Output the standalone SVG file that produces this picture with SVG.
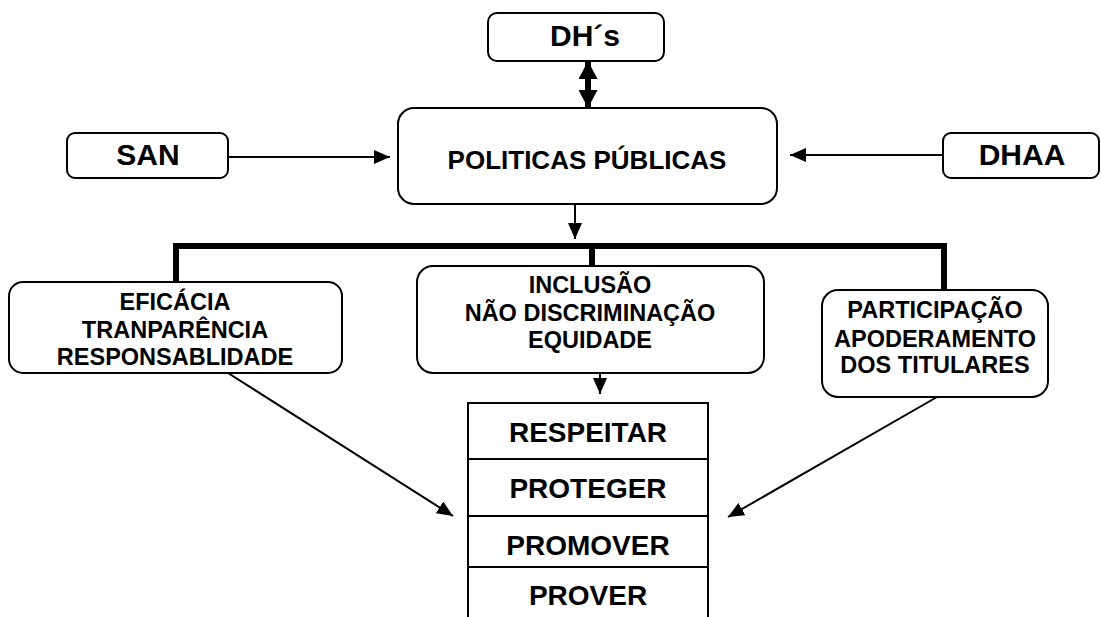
<svg xmlns="http://www.w3.org/2000/svg" width="1101" height="617" viewBox="0 0 1101 617">
<style>
.box{fill:#fff;stroke:#000;stroke-width:2}
.t{font-family:"Liberation Sans",Arial,sans-serif;font-weight:bold;fill:#000;text-anchor:middle}
.ln{stroke:#000;stroke-width:2;fill:none}
</style>
<defs>
<marker id="ah" markerUnits="userSpaceOnUse" markerWidth="16" markerHeight="14" refX="16" refY="7" orient="auto"><path d="M0,0 L16,7 L0,14 z" fill="#000"/></marker>
<marker id="ahb" markerUnits="userSpaceOnUse" markerWidth="18" markerHeight="19" refX="18" refY="9.5" orient="auto-start-reverse"><path d="M0,0 L18,9.5 L0,19 z" fill="#000"/></marker>
</defs>
<rect width="1101" height="617" fill="#fff"/>
<g id="connectors">
<line class="ln" x1="228" y1="157" x2="390" y2="157" marker-end="url(#ah)"/>
<line class="ln" x1="943" y1="155" x2="790" y2="155" marker-end="url(#ah)"/>
<line stroke="#000" stroke-width="6" x1="588" y1="61" x2="588" y2="108" marker-start="url(#ahb)" marker-end="url(#ahb)"/>
<line class="ln" x1="575" y1="204" x2="575" y2="239" marker-end="url(#ah)"/>
<path d="M176,282 V246 H944 V290 M592,246 V266" stroke="#000" stroke-width="6" fill="none"/>
<line class="ln" x1="600" y1="373" x2="600" y2="394" marker-end="url(#ah)"/>
<line class="ln" x1="228" y1="373" x2="453" y2="516" marker-end="url(#ah)"/>
<line class="ln" x1="937" y1="397" x2="728" y2="517" marker-end="url(#ah)"/>
</g>
<g id="dhs"><rect class="box" x="488" y="13" width="176" height="48" rx="9"/><text class="t" x="585" y="46" font-size="30">DH´s</text></g>
<g id="san"><rect class="box" x="67" y="133" width="161" height="45" rx="8"/><text class="t" x="148" y="165" font-size="30">SAN</text></g>
<g id="dhaa"><rect class="box" x="943" y="133" width="156" height="45" rx="8"/><text class="t" x="1022" y="165" font-size="30">DHAA</text></g>
<g id="politicas"><rect class="box" x="398" y="108" width="379" height="96" rx="16"/><text class="t" x="587" y="169" font-size="26">POLITICAS PÚBLICAS</text></g>
<g id="eficacia"><rect class="box" x="9" y="282" width="333" height="91" rx="14"/>
<text class="t" x="175" font-size="23.5"><tspan x="175" y="310">EFICÁCIA</tspan><tspan x="175" y="338">TRANPARÊNCIA</tspan><tspan x="175" y="365">RESPONSABLIDADE</tspan></text></g>
<g id="inclusao"><rect class="box" x="417" y="266" width="347" height="107" rx="16"/>
<text class="t" x="590" font-size="23.5"><tspan x="590" y="293">INCLUSÃO</tspan><tspan x="590" y="321">NÃO DISCRIMINAÇÃO</tspan><tspan x="590" y="348">EQUIDADE</tspan></text></g>
<g id="participacao"><rect class="box" x="822" y="290" width="226" height="107" rx="16"/>
<text class="t" x="935" font-size="23.5"><tspan x="935" y="318">PARTICIPAÇÃO</tspan><tspan x="935" y="347">APODERAMENTO</tspan><tspan x="935" y="373">DOS TITULARES</tspan></text></g>
<g id="stack">
<path d="M468,620 V403 H708 V620" class="box"/>
<line class="ln" x1="468" y1="459" x2="708" y2="459"/>
<line class="ln" x1="468" y1="516" x2="708" y2="516"/>
<line class="ln" x1="468" y1="567" x2="708" y2="567"/>
<text class="t" x="588" y="442" font-size="28">RESPEITAR</text>
<text class="t" x="588" y="498" font-size="28">PROTEGER</text>
<text class="t" x="588" y="555" font-size="28">PROMOVER</text>
<text class="t" x="588" y="605" font-size="28">PROVER</text>
</g>
</svg>
